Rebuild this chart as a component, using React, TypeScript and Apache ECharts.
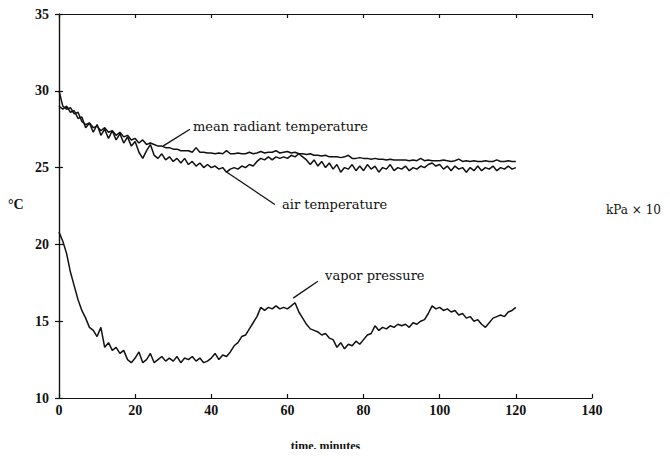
import React, { useEffect, useRef } from "react";
import * as echarts from "echarts";

// time in minutes, 0..120
const times: number[] = [
  0, 1, 2, 3, 4, 5, 6, 7, 8, 9, 10, 11, 12, 13, 14, 15, 16, 17, 18, 19, 20,
  21, 22, 23, 24, 25, 26, 27, 28, 29, 30, 31, 32, 33, 34, 35, 36, 37, 38, 39, 40,
  41, 42, 43, 44, 45, 46, 47, 48, 49, 50, 51, 52, 53, 54, 55, 56, 57, 58, 59, 60,
  61, 62, 63, 64, 65, 66, 67, 68, 69, 70, 71, 72, 73, 74, 75, 76, 77, 78, 79, 80,
  81, 82, 83, 84, 85, 86, 87, 88, 89, 90, 91, 92, 93, 94, 95, 96, 97, 98, 99, 100,
  101, 102, 103, 104, 105, 106, 107, 108, 109, 110, 111, 112, 113, 114, 115, 116, 117, 118, 119, 120,
];

// °C
const meanRadiant: number[] = [
  30.0, 29.0, 28.8, 28.9, 28.5, 28.6, 28.0, 27.8, 27.9, 27.6, 27.7,
  27.4, 27.6, 27.3, 27.4, 27.1, 27.3, 27.0, 27.1, 26.8, 26.9,
  26.6, 26.8, 26.5, 26.6, 26.5, 26.4, 26.4, 26.3, 26.3, 26.2,
  26.2, 26.1, 26.1, 26.1, 26.0, 26.3, 26.0, 26.0, 25.95, 25.95,
  25.9, 25.95, 25.9, 26.1, 25.9, 25.9, 25.95, 25.9, 25.9, 26.0,
  25.9, 25.95, 26.05, 25.95, 26.0, 26.0, 26.1, 25.95, 26.0, 26.05,
  25.95, 26.0, 25.9, 25.9, 25.85, 25.9, 25.8, 25.8, 25.75, 25.8,
  25.7, 25.7, 25.7, 25.65, 25.7, 25.8, 25.6, 25.6, 25.65, 25.6,
  25.6, 25.55, 25.6, 25.55, 25.55, 25.5, 25.55, 25.5, 25.5, 25.5,
  25.5, 25.45, 25.5, 25.45, 25.6, 25.45, 25.5, 25.45, 25.45, 25.45,
  25.5, 25.45, 25.4, 25.45, 25.55, 25.4, 25.45, 25.4, 25.45, 25.4,
  25.4, 25.45, 25.4, 25.4, 25.5, 25.4, 25.4, 25.45, 25.4, 25.4,
];

// °C
const airTemp: number[] = [
  29.0, 28.8, 29.0, 28.6, 28.7, 28.2, 28.3, 27.6, 27.9, 27.3, 27.8,
  27.1, 27.5, 26.9, 27.4, 26.8, 27.2, 26.6, 27.0, 26.4, 26.7,
  26.0, 25.6, 26.1, 26.5, 25.8, 25.6, 25.9, 25.5, 25.7, 25.4,
  25.6, 25.3, 25.6, 25.2, 25.4, 25.1, 25.3, 25.0, 25.2, 25.0,
  25.1, 24.9, 25.0, 24.7, 24.9, 25.0, 24.9, 25.1, 25.0, 25.2,
  25.1, 25.4, 25.6, 25.5, 25.7, 25.5, 25.7, 25.6, 25.7, 25.6,
  25.8, 25.7, 25.9, 25.7, 25.5, 25.2, 25.5, 25.1, 25.4, 25.0,
  25.3, 24.9, 25.2, 24.7, 25.0, 24.9, 25.2, 24.8, 25.1, 24.8,
  25.2, 24.9, 25.1, 24.7, 25.0, 24.9, 25.2, 24.8, 25.0, 24.9,
  25.1, 24.8, 25.0, 24.9, 25.1, 25.0, 25.2, 25.3, 25.1, 25.2,
  24.9, 25.1, 24.8, 25.1, 24.9, 25.0, 24.7, 25.0, 24.8, 25.1,
  24.8, 25.0, 24.9, 25.1, 24.8, 25.0, 24.9, 25.1, 24.9, 25.0,
];

// kPa × 10
const vaporPressure: number[] = [
  20.8, 20.2, 19.4, 18.2, 17.3, 16.4, 15.7, 15.2, 14.6, 14.4, 14.0,
  14.6, 13.3, 13.6, 13.1, 13.3, 12.9, 13.1, 12.5, 12.3, 12.6,
  13.0, 12.3, 12.5, 12.9, 12.3, 12.5, 12.7, 12.4, 12.6, 12.4,
  12.7, 12.3, 12.6, 12.5, 12.7, 12.4, 12.6, 12.3, 12.4, 12.6,
  12.9, 12.5, 12.8, 12.7, 13.0, 13.4, 13.6, 14.0, 14.1, 14.5,
  14.9, 15.3, 15.9, 15.7, 15.9, 15.8, 16.0, 15.8, 15.9, 15.8,
  16.0, 16.2, 15.6, 15.2, 14.8, 14.5, 14.4, 14.3, 14.1, 14.2,
  13.9, 13.8, 13.3, 13.6, 13.2, 13.5, 13.4, 13.7, 13.5, 13.8,
  14.1, 14.2, 14.7, 14.4, 14.6, 14.5, 14.7, 14.6, 14.8, 14.7,
  14.8, 14.6, 14.9, 14.8, 15.0, 15.1, 15.5, 16.0, 15.8, 15.9,
  15.7, 15.8, 15.6, 15.7, 15.4, 15.5, 15.2, 15.3, 15.0, 15.1,
  14.8, 14.6, 14.9, 15.2, 15.3, 15.4, 15.3, 15.6, 15.7, 15.9,
];

const seriesNames = ["mean radiant temperature", "air temperature", "vapor pressure"];

// annotation anchors in data coordinates: [time, value]
const annotations = [
  { text: seriesNames[0], from: [27.3, 26.4], to: [34.4, 27.5], at: [35.2, 27.7] },
  { text: seriesNames[1], from: [44.1, 24.7], to: [56.7, 22.6], at: [58.6, 22.6] },
  { text: seriesNames[2], from: [61.5, 16.5], to: [68.0, 17.6], at: [69.9, 18.0] },
];

const SERIF = "'DejaVu Serif', 'Liberation Serif', serif";
const TIMES = "'Liberation Serif', 'DejaVu Serif', serif";

export default function App() {
  const ref = useRef<HTMLDivElement>(null);
  useEffect(() => {
    if (!ref.current) return;
    const chart = echarts.init(ref.current, undefined, { renderer: "svg" });
    const pairs = (vals: number[]) => times.map((t, i) => [t, vals[i]]);
    const axisLine = { show: true, lineStyle: { color: "#111", width: 1.2 } };
    const tick = { inside: true, length: 4, lineStyle: { color: "#111", width: 1.2 } };
    const lineSeries = (name: string, vals: number[]) => ({
      name,
      type: "line",
      data: pairs(vals),
      showSymbol: false,
      symbol: "none",
      lineStyle: { color: "#111", width: 1.5 },
      z: 3,
    });
    const labelStyle = { color: "#111", fontFamily: TIMES, fontSize: 14, fontWeight: "bold" };
    chart.setOption({
      animation: false,
      backgroundColor: "#fff",
      grid: { left: 59, right: 78, top: 14, bottom: 54, containLabel: false },
      xAxis: [
        {
          type: "value",
          min: 0,
          max: 140,
          interval: 20,
          axisLine,
          axisTick: tick,
          splitLine: { show: false },
          axisLabel: { ...labelStyle, margin: 5 },
          name: "time, minutes",
          nameLocation: "middle",
          nameGap: 42,
          nameTextStyle: { color: "#111", fontFamily: TIMES, fontSize: 12, fontWeight: "bold" },
        },
        {
          type: "value",
          position: "top",
          min: 0,
          max: 140,
          interval: 20,
          axisLine,
          axisTick: tick,
          splitLine: { show: false },
          axisLabel: { show: false },
        },
      ],
      yAxis: [
        {
          type: "value",
          min: 10,
          max: 35,
          interval: 5,
          axisLine,
          axisTick: tick,
          splitLine: { show: false },
          axisLabel: { ...labelStyle, margin: 10 },
        },
        {
          type: "value",
          position: "right",
          min: 10,
          max: 35,
          interval: 5,
          axisLine,
          axisTick: tick,
          splitLine: { show: false },
          axisLabel: { show: false },
        },
      ],
      series: [
        lineSeries(seriesNames[0], meanRadiant),
        lineSeries(seriesNames[1], airTemp),
        lineSeries(seriesNames[2], vaporPressure),
      ],
    });

    const px = (p: number[]) =>
      chart.convertToPixel({ xAxisIndex: 0, yAxisIndex: 0 }, p) as number[];
    const graphics: any[] = [];
    annotations.forEach((a) => {
      const f = px(a.from);
      const t = px(a.to);
      const l = px(a.at);
      graphics.push({
        type: "line",
        shape: { x1: f[0], y1: f[1], x2: t[0], y2: t[1] },
        style: { stroke: "#111", lineWidth: 1.3 },
        silent: true,
      });
      graphics.push({
        type: "text",
        x: l[0],
        y: l[1],
        style: {
          text: a.text,
          fill: "#111",
          font: `13px ${SERIF}`,
          textAlign: "left",
          textVerticalAlign: "middle",
        },
        silent: true,
      });
    });
    graphics.push({
      type: "text",
      x: 8,
      y: 204,
      style: { text: "°C", fill: "#111", font: `bold 14px ${TIMES}`, textVerticalAlign: "middle" },
    });
    graphics.push({
      type: "text",
      x: 606,
      y: 210,
      style: { text: "kPa × 10", fill: "#111", font: `12px ${SERIF}`, textVerticalAlign: "middle" },
    });
    chart.setOption({ graphic: graphics });

    return () => chart.dispose();
  }, []);
  return <div ref={ref} style={{ width: 670, height: 457, margin: -8 }} />;
}
